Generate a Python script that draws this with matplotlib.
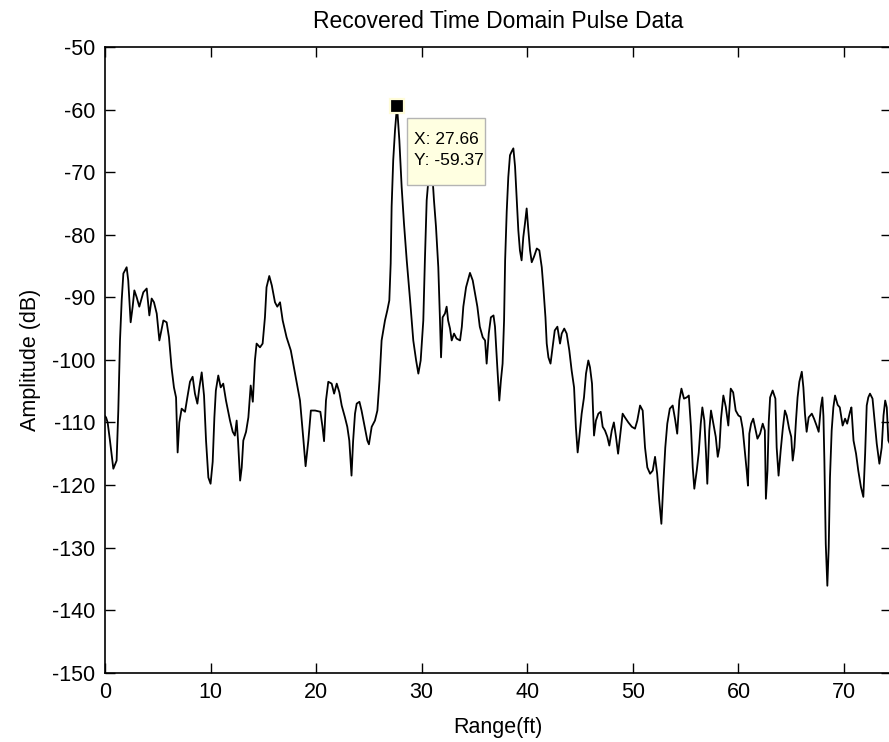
import numpy as np
import matplotlib.pyplot as plt
import matplotlib.transforms as mtransforms
from matplotlib.patches import Rectangle

# range (ft) and amplitude (dB) of the recovered pulse
range_ft = [
    0.0, 0.1, 0.25, 0.47, 0.79, 1.1, 1.26, 1.42, 1.58, 1.74, 2.05, 2.2, 2.43, 2.62, 2.78,
    3.0, 3.25, 3.47, 3.63, 3.95, 4.2, 4.42, 4.64, 4.9, 5.15, 5.53, 5.84, 6.06, 6.3, 6.53,
    6.73, 6.88, 7.04, 7.26, 7.58, 7.8, 8.05, 8.3, 8.52, 8.75, 8.94, 9.16, 9.38, 9.57, 9.79,
    10.0, 10.2, 10.36, 10.5, 10.73, 10.96, 11.2, 11.46, 11.84, 12.1, 12.3, 12.47, 12.6, 12.8,
    12.95, 13.1, 13.36, 13.58, 13.8, 14.0, 14.2, 14.36, 14.68, 14.93, 15.15, 15.3, 15.56,
    15.8, 16.1, 16.32, 16.58, 16.83, 17.2, 17.6, 18.0, 18.47, 18.8, 19.0, 19.26, 19.5, 19.9,
    20.4, 20.6, 20.75, 20.93, 21.15, 21.47, 21.7, 21.95, 22.2, 22.42, 22.73, 22.95, 23.14,
    23.35, 23.5, 23.68, 23.84, 24.1, 24.3, 24.6, 24.85, 25.0, 25.26, 25.57, 25.8, 26.0, 26.2,
    26.52, 26.74, 26.93, 27.06, 27.15, 27.3, 27.47, 27.66, 27.88, 28.1, 28.32, 28.58, 28.9,
    29.2, 29.47, 29.68, 29.9, 30.15, 30.3, 30.47, 30.63, 30.85, 31.04, 31.16, 31.35, 31.57,
    31.73, 31.83, 31.98, 32.2, 32.36, 32.5, 32.68, 32.84, 33.06, 33.3, 33.63, 33.8, 33.94,
    34.2, 34.57, 34.83, 35.05, 35.27, 35.5, 35.78, 36.0, 36.15, 36.35, 36.55, 36.8, 36.94,
    37.16, 37.35, 37.5, 37.66, 37.8, 37.9, 38.05, 38.2, 38.36, 38.52, 38.68, 38.84, 39.0,
    39.15, 39.3, 39.46, 39.62, 39.78, 39.94, 40.1, 40.26, 40.42, 40.64, 40.9, 41.14, 41.37,
    41.52, 41.72, 41.84, 42.0, 42.2, 42.4, 42.6, 42.85, 43.1, 43.26, 43.5, 43.73, 43.98,
    44.2, 44.43, 44.6, 44.77, 44.93, 45.15, 45.37, 45.56, 45.78, 45.94, 46.13, 46.32, 46.5,
    46.73, 46.95, 47.14, 47.36, 47.58, 47.77, 48.0, 48.2, 48.4, 48.6, 48.78, 49.03, 49.25,
    49.57, 49.9, 50.2, 50.42, 50.68, 50.93, 51.15, 51.37, 51.63, 51.88, 52.1, 52.3, 52.5,
    52.7, 52.9, 53.07, 53.26, 53.5, 53.77, 54.0, 54.2, 54.4, 54.6, 54.84, 55.1, 55.3, 55.5,
    55.67, 55.82, 56.05, 56.24, 56.43, 56.58, 56.77, 56.93, 57.05, 57.24, 57.4, 57.62,
    57.85, 58.04, 58.2, 58.35, 58.57, 58.8, 59.04, 59.27, 59.5, 59.74, 60.0, 60.2, 60.4,
    60.6, 60.78, 60.9, 61.03, 61.2, 61.4, 61.6, 61.8, 62.05, 62.3, 62.5, 62.6, 62.75, 62.87,
    63.0, 63.24, 63.5, 63.62, 63.8, 64.0, 64.2, 64.4, 64.57, 64.8, 65.0, 65.14, 65.3, 65.45,
    65.6, 65.77, 66.0, 66.15, 66.3, 66.46, 66.65, 66.95, 67.16, 67.4, 67.6, 67.8, 67.95,
    68.05, 68.14, 68.27, 68.42, 68.55, 68.67, 68.83, 68.99, 69.15, 69.4, 69.6, 69.87, 70.1,
    70.3, 70.57, 70.7, 70.9, 71.14, 71.35, 71.6, 71.83, 72.0, 72.15, 72.3, 72.46, 72.7,
    72.87, 73.1, 73.35, 73.57, 73.74, 73.9, 74.05, 74.2, 74.5,
]
amplitude_db = [
    -109.0, -109.2, -110.0, -112.9, -117.4, -116.1, -108.1, -96.9, -90.5, -86.2, -85.2, -87.3,
    -94.0, -91.5, -88.9, -90.0, -91.5, -90.2, -89.2, -88.6, -92.9, -90.2, -90.8, -92.6, -96.9,
    -93.7, -94.0, -96.4, -101.2, -104.4, -106.0, -114.8, -110.0, -107.8, -108.3, -106.0,
    -103.5, -102.7, -105.4, -107.0, -104.4, -102.0, -105.7, -112.9, -118.8, -119.8, -116.3,
    -109.2, -104.9, -102.5, -104.4, -103.8, -106.5, -109.7, -111.5, -112.1, -109.7, -112.9,
    -119.3, -117.2, -112.9, -111.5, -109.2, -104.1, -106.7, -100.1, -97.4, -98.0, -97.4,
    -93.2, -88.4, -86.6, -88.1, -90.8, -91.5, -90.8, -93.7, -96.4, -98.5, -102.2, -106.5,
    -112.9, -117.0, -112.9, -108.1, -108.1, -108.3, -110.7, -113.0, -106.5, -103.5, -103.8,
    -105.4, -103.8, -105.2, -107.3, -109.2, -110.7, -112.9, -118.5, -113.0, -108.6, -107.0,
    -106.7, -108.1, -110.7, -112.9, -113.5, -110.7, -109.7, -108.1, -103.3, -96.9, -93.7,
    -92.1, -90.5, -84.6, -75.5, -68.1, -63.3, -59.37, -64.9, -72.4, -78.2, -84.1, -90.5,
    -96.9, -100.1, -102.2, -100.1, -93.7, -84.1, -74.5, -71.3, -69.0, -71.3, -74.5, -78.7,
    -85.2, -93.7, -99.6, -93.2, -92.6, -91.5, -93.7, -95.0, -96.9, -95.8, -96.6, -96.9,
    -94.7, -91.5, -88.4, -86.1, -87.3, -89.4, -91.5, -94.7, -96.4, -96.9, -100.6, -95.8,
    -93.2, -92.9, -94.7, -101.2, -106.5, -103.3, -100.6, -93.7, -84.1, -76.3, -70.8, -67.3,
    -66.7, -66.2, -69.1, -74.5, -79.3, -82.5, -84.1, -80.4, -78.2, -75.8, -79.3, -82.5,
    -84.4, -83.5, -82.2, -82.5, -85.2, -88.4, -93.2, -97.4, -99.6, -100.6, -98.0, -95.3,
    -94.7, -97.4, -95.8, -95.0, -95.8, -98.5, -101.7, -104.4, -110.7, -114.8, -112.3,
    -108.6, -106.0, -102.2, -100.1, -101.2, -103.8, -112.1, -109.7, -108.6, -108.3, -110.7,
    -111.3, -112.3, -113.7, -111.3, -110.0, -112.3, -115.0, -112.3, -108.6, -109.2, -110.0,
    -110.7, -111.0, -109.7, -107.3, -108.1, -114.0, -117.2, -118.2, -117.7, -115.5, -118.2,
    -122.5, -126.2, -119.3, -114.0, -110.2, -107.8, -107.3, -109.5, -111.8, -106.5, -104.6,
    -106.2, -106.0, -105.7, -110.7, -117.2, -120.6, -117.7, -114.8, -110.2, -107.6, -109.7,
    -115.0, -119.8, -111.3, -108.1, -110.2, -112.3, -115.5, -114.0, -109.4, -105.7, -107.5,
    -110.5, -104.6, -105.2, -108.1, -108.9, -109.1, -111.0, -114.5, -117.7, -120.1, -111.8,
    -110.2, -109.4, -111.0, -112.6, -111.8, -110.2, -111.3, -122.2, -117.7, -109.9, -106.0,
    -104.9, -106.2, -114.0, -118.5, -114.5, -111.0, -108.1, -108.9, -111.0, -112.3, -116.1,
    -114.0, -109.7, -106.0, -103.5, -101.9, -104.4, -108.6, -111.5, -109.2, -108.6, -109.4,
    -110.5, -111.5, -107.6, -106.0, -109.0, -116.1, -129.4, -136.1, -130.0, -118.8, -111.3,
    -107.6, -105.7, -107.2, -107.6, -110.5, -109.4, -110.2, -108.3, -107.6, -112.9, -115.0,
    -117.7, -120.3, -121.9, -115.0, -107.3, -106.0, -105.4, -106.2, -109.2, -113.4, -116.6,
    -114.0, -108.9, -106.5, -107.6, -112.9, -114.0,
]
x_ticks = [0, 10, 20, 30, 40, 50, 60, 70]
y_ticks = list(range(-150, -49, 10))

# data tip on the main peak
tip_x = 27.66
tip_y = -59.37

plt.rcParams['font.family'] = ['Liberation Sans', 'DejaVu Sans']
plt.rcParams['axes.unicode_minus'] = False

W, H = 889, 742
fig = plt.figure(figsize=(W / 100, H / 100), dpi=100)
left, right, top, bottom = 105, 891, 47, 672.7
ax = fig.add_axes([left / W, 1 - bottom / H, (right - left) / W, (bottom - top) / H])

ax.plot(range_ft, amplitude_db, color='black', lw=1.3)
ax.set_xlim(0, 74.45)
ax.set_ylim(-150, -50)
ax.set_xticks(x_ticks)
ax.set_yticks(y_ticks)
ax.tick_params(direction='in', length=7, width=1, top=True, right=True, labelsize=15.5)
ax.tick_params(axis='x', pad=7)
ax.tick_params(axis='y', pad=7)
for s in ax.spines.values():
    s.set_linewidth(1.2)

ax.set_title('Recovered Time Domain Pulse Data', fontsize=16.5, pad=14)
ax.set_xlabel('Range(ft)', fontsize=15.5, labelpad=10)
ax.set_ylabel('Amplitude (dB)', fontsize=15.5, labelpad=8)

# marker and yellow tip box, laid out in pixels from the peak
ax.plot([tip_x], [tip_y], marker='s', ms=10, mfc='black', mec='#fffcd8', mew=1.6,
        clip_on=False, zorder=5)
px, py = ax.transData.transform((tip_x, tip_y))
pix = mtransforms.IdentityTransform()
box = Rectangle((px + 10, py - 12 - 67), 78, 67, transform=pix, fc='#ffffe1',
                ec='#b4b4b4', lw=1, zorder=6, clip_on=False)
ax.add_patch(box)
ax.text(px + 17, py - 34, f'X: {tip_x:.2f}', transform=pix, ha='left', va='center',
        fontsize=12.5, zorder=7)
ax.text(px + 17, py - 55, f'Y: {tip_y:.2f}', transform=pix, ha='left', va='center',
        fontsize=12.5, zorder=7)

fig.savefig('out.png', dpi=100)
